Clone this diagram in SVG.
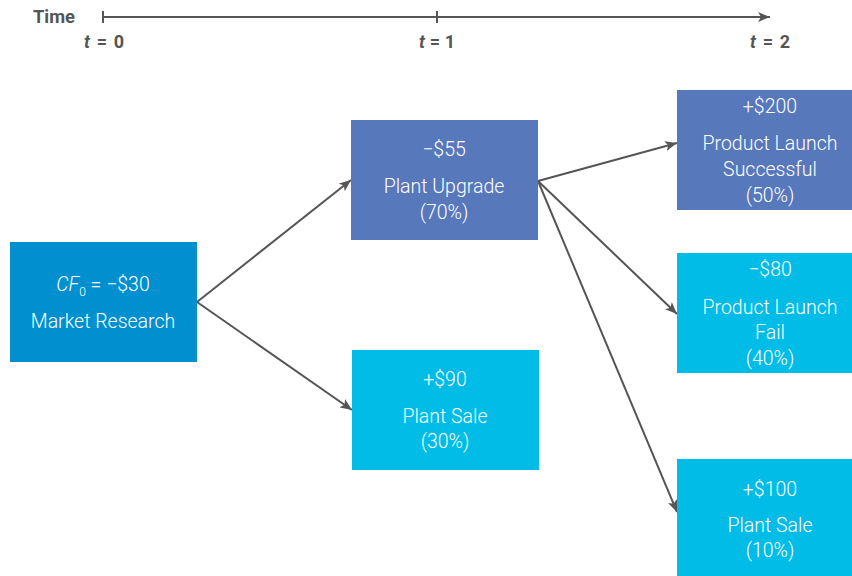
<svg xmlns="http://www.w3.org/2000/svg" width="852" height="576" viewBox="0 0 852 576">
<defs>
<marker id="ah" viewBox="0 0 12 10" refX="12" refY="5" markerWidth="12" markerHeight="10" markerUnits="userSpaceOnUse" orient="auto">
<path d="M0,0 L12,5 L0,10 L3,5 Z" fill="#555"/>
</marker>
</defs>
<style>
.t{font-family:"Roboto","Liberation Sans",sans-serif;font-size:19.5px;font-weight:300;fill:#fff;text-anchor:middle}
.h{font-family:"Roboto","Liberation Sans",sans-serif;font-size:18px;font-weight:bold;fill:#555}
.c{stroke:#555;stroke-width:2;fill:none;marker-end:url(#ah)}
.dark{fill:#0090d0}.mid{fill:#5878bc}.light{fill:#00bce6}
</style>
<rect width="852" height="576" fill="#fff"/>
<g id="timeline">
<text class="h" x="33" y="23" textLength="42" lengthAdjust="spacingAndGlyphs">Time</text>
<line x1="103" y1="17" x2="770" y2="17" stroke="#555" stroke-width="2" marker-end="url(#ah)"/>
<line x1="103" y1="11" x2="103" y2="23" stroke="#555" stroke-width="2"/>
<line x1="437" y1="11" x2="437" y2="23" stroke="#555" stroke-width="2"/>
<text class="h" x="84" y="48" textLength="40"><tspan font-style="italic">t</tspan> = 0</text>
<text class="h" x="419" y="48" textLength="36"><tspan font-style="italic">t</tspan> = 1</text>
<text class="h" x="750" y="48" textLength="40"><tspan font-style="italic">t</tspan> = 2</text>
</g>
<g id="connectors">
<line class="c" x1="197" y1="302" x2="351" y2="180"/>
<line class="c" x1="197" y1="302" x2="352" y2="410"/>
<line class="c" x1="538" y1="181" x2="677" y2="143"/>
<line class="c" x1="538" y1="181" x2="677" y2="314"/>
<line class="c" x1="538" y1="181" x2="677" y2="512"/>
</g>
<g id="market-research">
<rect class="dark" x="10" y="242" width="187" height="120"/>
<text class="t" x="103" y="291"><tspan font-style="italic">CF</tspan><tspan font-size="12" dy="5">0</tspan><tspan dy="-5"> = −$30</tspan></text>
<text class="t" x="103" y="328">Market Research</text>
</g>
<g id="plant-upgrade">
<rect class="mid" x="351" y="120" width="187" height="120"/>
<text class="t" x="444" y="156">−$55</text>
<text class="t" x="444" y="193">Plant Upgrade</text>
<text class="t" x="444" y="219">(70%)</text>
</g>
<g id="plant-sale-30">
<rect class="light" x="352" y="350" width="187" height="120"/>
<text class="t" x="445" y="386">+$90</text>
<text class="t" x="445" y="423">Plant Sale</text>
<text class="t" x="445" y="448">(30%)</text>
</g>
<g id="launch-success">
<rect class="mid" x="677" y="90" width="175" height="120"/>
<text class="t" x="770" y="113">+$200</text>
<text class="t" x="770" y="150">Product Launch</text>
<text class="t" x="770" y="176">Successful</text>
<text class="t" x="770" y="202">(50%)</text>
</g>
<g id="launch-fail">
<rect class="light" x="677" y="253" width="175" height="120"/>
<text class="t" x="770" y="276">−$80</text>
<text class="t" x="770" y="314">Product Launch</text>
<text class="t" x="770" y="339">Fail</text>
<text class="t" x="770" y="365">(40%)</text>
</g>
<g id="plant-sale-10">
<rect class="light" x="677" y="459" width="175" height="117"/>
<text class="t" x="770" y="496">+$100</text>
<text class="t" x="770" y="532">Plant Sale</text>
<text class="t" x="770" y="557">(10%)</text>
</g>
</svg>
